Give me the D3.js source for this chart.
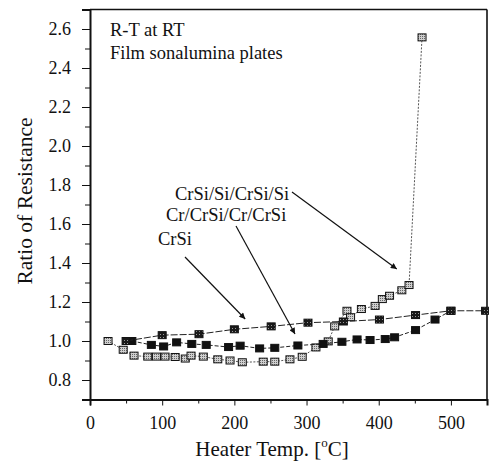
<!DOCTYPE html>
<html>
<head>
<meta charset="utf-8">
<script src="https://cdn.jsdelivr.net/npm/d3@7"></script>
<style>
  body { margin: 0; background: #fff; }
  svg, svg text { font-family: 'Liberation Serif', 'Times New Roman', Times, serif !important; }
</style>
</head>
<body>
<div id="chart"></div>
<script>
const width = 489;
const height = 463;

const margin = {top: 9.5, right: 2, bottom: 63.5, left: 90};

// CrSi
const crsiTemp = [50, 100, 151, 200, 251, 302, 351, 401, 451, 500, 548];
const crsiRatio = [1.0, 1.03, 1.035, 1.06, 1.075, 1.094, 1.10, 1.11, 1.133, 1.155, 1.155];

// Cr/CrSi/Cr/CrSi
const crTemp = [58, 85, 102, 120, 141, 161, 192, 208, 235, 256, 288, 323, 349, 370, 388, 409, 422, 451, 478, 500];
const crRatio = [1.0, 0.98, 0.972, 0.993, 0.985, 0.98, 0.969, 0.976, 0.962, 0.965, 0.977, 0.985, 0.996, 1.008, 1.005, 1.01, 1.019, 1.056, 1.11, 1.155];

// CrSi/Si/CrSi/Si
const siTemp = [25, 46, 61, 80, 92, 104, 118, 132, 140, 157, 177, 194, 211, 240, 256, 277, 294, 313, 330, 339, 356, 361, 376, 395, 405, 415, 432, 442, 460];
const siRatio = [1.0, 0.955, 0.925, 0.92, 0.92, 0.92, 0.918, 0.91, 0.925, 0.92, 0.906, 0.9, 0.891, 0.894, 0.894, 0.906, 0.919, 0.967, 0.998, 1.075, 1.155, 1.122, 1.164, 1.18, 1.215, 1.232, 1.26, 1.287, 2.557];

const xMajor = [0, 100, 200, 300, 400, 500];
const xMinor = [50, 150, 250, 350, 450, 550];
const yMajor = [0.8, 1.0, 1.2, 1.4, 1.6, 1.8, 2.0, 2.2, 2.4, 2.6];
const yMinor = [0.7, 0.9, 1.1, 1.3, 1.5, 1.7, 1.9, 2.1, 2.3, 2.5, 2.7];

const notes = ["R-T at RT", "Film sonalumina plates"];
const labels = ["CrSi/Si/CrSi/Si", "Cr/CrSi/Cr/CrSi", "CrSi"];
// arrow tips in data units [temp, ratio]
const arrowTo = [[425, 1.369], [284, 1.036], [215, 1.113]];

const x = d3.scaleLinear()
  .domain([0, 550])
  .range([margin.left, width - margin.right]);

const y = d3.scaleLinear()
  .domain([0.7, 2.7])
  .range([height - margin.bottom, margin.top]);

const svg = d3.select("#chart")
  .append("svg")
  .attr("width", width)
  .attr("height", height)
  .style("display", "block");

const defs = svg.append("defs");

const dots = defs.append("pattern")
  .attr("id", "dots")
  .attr("width", 2)
  .attr("height", 2)
  .attr("patternUnits", "userSpaceOnUse");
dots.append("rect").attr("width", 2).attr("height", 2).attr("fill", "#cfcfcf");
dots.append("rect").attr("width", 1).attr("height", 1).attr("fill", "#666");

const darkDots = defs.append("pattern")
  .attr("id", "darkdots")
  .attr("width", 3)
  .attr("height", 3)
  .attr("patternUnits", "userSpaceOnUse");
darkDots.append("rect").attr("width", 3).attr("height", 3).attr("fill", "#1a1a1a");
darkDots.append("rect").attr("x", 1).attr("y", 1).attr("width", 1).attr("height", 1).attr("fill", "#999");

defs.append("marker")
  .attr("id", "arrow")
  .attr("viewBox", "0 0 10 10")
  .attr("refX", 10)
  .attr("refY", 5)
  .attr("markerWidth", 9)
  .attr("markerHeight", 6)
  .attr("markerUnits", "userSpaceOnUse")
  .attr("orient", "auto")
  .append("path")
  .attr("d", "M0,0 L10,5 L0,10 Z")
  .attr("fill", "#111");

// frame
svg.append("line")
  .attr("x1", x(0)).attr("x2", x(550))
  .attr("y1", y(2.7)).attr("y2", y(2.7))
  .attr("stroke", "#111").attr("stroke-width", 1.6);
svg.append("line")
  .attr("x1", x(550)).attr("x2", x(550))
  .attr("y1", y(2.7)).attr("y2", y(0.7))
  .attr("stroke", "#111").attr("stroke-width", 1.6);

// axes
const styleAxis = (g) => {
  g.attr("font-family", null).attr("font-size", 18);
  g.selectAll("text").attr("fill", "#111");
  g.selectAll("line").attr("stroke", "#111");
  g.select(".domain").attr("stroke", "#111").attr("stroke-width", 2);
};

svg.append("g")
  .attr("transform", `translate(0, ${y(0.7)})`)
  .call(d3.axisBottom(x).tickValues(xMajor).tickSize(6).tickPadding(11).tickFormat(d3.format("d")))
  .call(styleAxis);

svg.append("g")
  .attr("transform", `translate(0, ${y(0.7)})`)
  .call(d3.axisBottom(x).tickValues(xMinor).tickSize(4).tickFormat(""))
  .call(styleAxis)
  .select(".domain").remove();

svg.append("g")
  .attr("transform", `translate(${x(0)}, 0)`)
  .call(d3.axisLeft(y).tickValues(yMajor).tickSize(8).tickPadding(11).tickFormat(d3.format(".1f")))
  .call(styleAxis);

svg.append("g")
  .attr("transform", `translate(${x(0)}, 0)`)
  .call(d3.axisLeft(y).tickValues(yMinor).tickSize(5).tickFormat(""))
  .call(styleAxis)
  .select(".domain").remove();

// axis titles
const xTitle = svg.append("text")
  .attr("x", 272)
  .attr("y", 456)
  .attr("text-anchor", "middle")
  .attr("font-size", 21)
  .attr("fill", "#111");
xTitle.append("tspan").text("Heater Temp. [");
xTitle.append("tspan").attr("font-size", 13).attr("dy", -9).text("o");
xTitle.append("tspan").attr("dy", 9).text("C]");

svg.append("text")
  .text("Ratio of Resistance")
  .attr("transform", "translate(32, 201) rotate(-90)")
  .attr("text-anchor", "middle")
  .attr("font-size", 21.5)
  .attr("fill", "#111");

// series
const series = [
  {temp: siTemp, ratio: siRatio, dash: "2,1.5", stroke: "#555", fill: "url(#dots)"},
  {temp: crTemp, ratio: crRatio, dash: "4,2", stroke: "#222", fill: "#111"},
  {temp: crsiTemp, ratio: crsiRatio, dash: "7,2", stroke: "#222", fill: "url(#darkdots)"}
];

const line = d3.line()
  .x(d => x(d[0]))
  .y(d => y(d[1]));

series.forEach((s) => {
  const pts = s.temp.map((t, i) => [t, s.ratio[i]]);

  svg.append("path")
    .datum(pts)
    .attr("d", line)
    .attr("fill", "none")
    .attr("stroke", s.stroke)
    .attr("stroke-width", 1)
    .attr("stroke-dasharray", s.dash);

  svg.append("g")
    .selectAll("rect")
    .data(pts)
    .enter()
    .append("rect")
    .attr("x", d => x(d[0]) - 4)
    .attr("y", d => y(d[1]) - 3.5)
    .attr("width", 8)
    .attr("height", 7)
    .attr("fill", s.fill)
    .attr("stroke", "#111")
    .attr("stroke-width", 1);
});

// notes
svg.selectAll(".note")
  .data(notes)
  .enter()
  .append("text")
  .attr("class", "note")
  .text(d => d)
  .attr("x", 110)
  .attr("y", (d, i) => 36 + i * 22.5)
  .attr("font-size", 18.5)
  .attr("fill", "#111");

// labels and arrows
const labelPos = [[175, 200], [166, 221], [158, 245]];
const arrowFrom = [[292, 192], [236, 226], [185, 257]];

svg.selectAll(".label")
  .data(labels)
  .enter()
  .append("text")
  .attr("class", "label")
  .text(d => d)
  .attr("x", (d, i) => labelPos[i][0])
  .attr("y", (d, i) => labelPos[i][1])
  .attr("font-size", 18.5)
  .attr("fill", "#111");

svg.selectAll(".arrow")
  .data(labels)
  .enter()
  .append("line")
  .attr("class", "arrow")
  .attr("x1", (d, i) => arrowFrom[i][0])
  .attr("y1", (d, i) => arrowFrom[i][1])
  .attr("x2", (d, i) => x(arrowTo[i][0]))
  .attr("y2", (d, i) => y(arrowTo[i][1]))
  .attr("stroke", "#111")
  .attr("stroke-width", 1.2)
  .attr("marker-end", "url(#arrow)");
</script>
</body>
</html>
